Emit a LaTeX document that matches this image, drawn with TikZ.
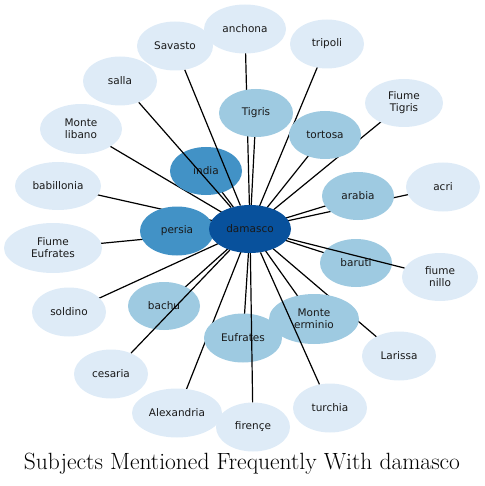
\documentclass[tikz,border=0pt]{standalone}
\usepackage{fontspec}
\newfontfamily\nodefont{DejaVu Sans}
\usetikzlibrary{shapes.geometric,backgrounds}
\definecolor{cA}{HTML}{08519C}
\definecolor{cB}{HTML}{4292C6}
\definecolor{cC}{HTML}{9ECAE1}
\definecolor{cD}{HTML}{DEEBF7}
\tikzset{
  nd/.style={ellipse, draw=none, inner sep=0pt, align=center,
    font=\nodefont\fontsize{10.5}{12}\selectfont, text=black!90},
  sz/.style 2 args={minimum width=#1pt, minimum height=#2pt},
  lvA/.style={nd, fill=cA},
  lvB/.style={nd, fill=cB},
  lvC/.style={nd, fill=cC},
  lvD/.style={nd, fill=cD},
  edge/.style={draw=black, line width=1.2pt}
}
\begin{document}
\begin{tikzpicture}[x=1pt,y=-1pt]
\useasboundingbox (0,0) rectangle (484,486);
% nodes
\node[lvC, sz={74}{48}] (tigris) at (256,113) {Tigris};
\node[lvC, sz={72}{48}] (tortosa) at (325,135) {tortosa};
\node[lvC, sz={72}{48}] (arabia) at (358,196) {arabia};
\node[lvC, sz={72}{48}] (baruti) at (356,263) {baruti};
\node[lvC, sz={90}{50}] (erminio) at (314,319) {Monte\\erminio};
\node[lvC, sz={78}{49}] (eufrates) at (243,338) {Eufrates};
\node[lvC, sz={72}{48}] (bachu) at (164,306) {bachu};
\node[lvB, sz={72}{48}] (india) at (206,171) {india};
\node[lvB, sz={74}{49}] (persia) at (177,231) {persia};
\node[lvD, sz={78}{48}] (ftigris) at (404,103) {Fiume\\Tigris};
\node[lvD, sz={74}{49}] (acri) at (443,187) {acri};
\node[lvD, sz={76}{48}] (nillo) at (440,277) {fiume\\nillo};
\node[lvD, sz={74}{49}] (larissa) at (399,356) {Larissa};
\node[lvD, sz={74}{49}] (turchia) at (330,408) {turchia};
\node[lvD, sz={74}{49}] (firenze) at (253,427) {firençe};
\node[lvD, sz={90}{49}] (alex) at (177,413) {Alexandria};
\node[lvD, sz={74}{49}] (cesaria) at (111,374) {cesaria};
\node[lvD, sz={74}{49}] (soldino) at (69,312) {soldino};
\node[lvD, sz={98}{50}] (feufrates) at (53,248) {Fiume\\Eufrates};
\node[lvD, sz={86}{48}] (babillonia) at (58,186) {babillonia};
\node[lvD, sz={82}{50}] (libano) at (81,129) {Monte\\libano};
\node[lvD, sz={74}{49}] (salla) at (120,81) {salla};
\node[lvD, sz={76}{49}] (savasto) at (175,46) {Savasto};
\node[lvD, sz={82}{49}] (anchona) at (245,29) {anchona};
\node[lvD, sz={74}{49}] (tripoli) at (327,44) {tripoli};
\node[lvA, sz={82}{48}] (damasco) at (250,229) {damasco};
% edges under the nodes
\begin{scope}[on background layer]
\foreach \t in {tigris,tortosa,arabia,baruti,erminio,eufrates,bachu,india,persia,
  ftigris,acri,larissa,alex,soldino,feufrates,babillonia,libano,
  anchona,tripoli}
  \draw[edge] (damasco.center) -- (\t.center);
\end{scope}
% edges drawn over other nodes
\foreach \t in {salla,savasto,nillo,turchia,firenze,cesaria}
  \draw[edge] (damasco) -- (\t);
% title
\node[anchor=base, inner sep=0pt, font=\fontsize{23.5}{26}\selectfont] (title) at (242,469)
  {Subjects Mentioned Frequently With damasco};
\end{tikzpicture}
\end{document}
